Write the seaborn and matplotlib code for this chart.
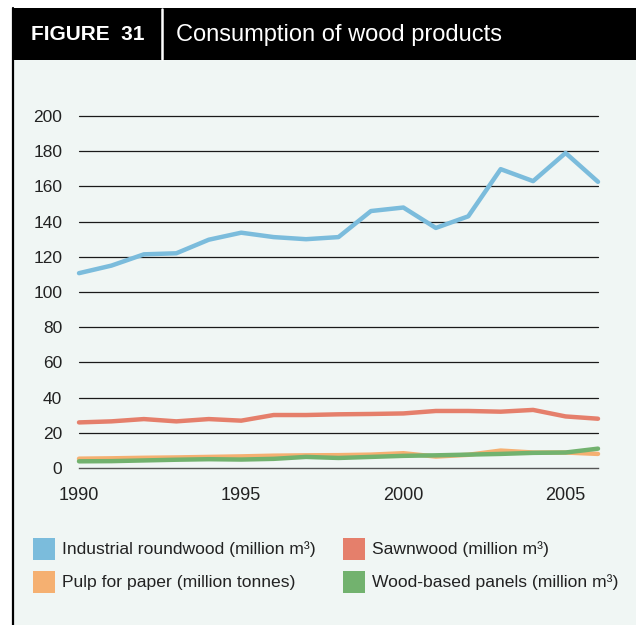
import matplotlib
matplotlib.use("Agg")
import matplotlib.pyplot as plt
from matplotlib.patches import Rectangle
from matplotlib.lines import Line2D
import seaborn as sns
import pandas as pd

years = list(range(1990, 2007))
roundwood = [110.7, 115, 121.4, 122, 129.7, 133.7, 131.2, 130, 131.2, 146, 148, 136.4, 143, 169.8, 163, 179, 162.6]
sawnwood = [25.9, 26.5, 27.8, 26.5, 27.8, 26.9, 30.1, 30.1, 30.5, 30.7, 31, 32.4, 32.4, 32, 33, 29.3, 28]
pulp = [5.3, 5.5, 5.8, 6.0, 6.3, 6.6, 7.0, 7.2, 7.3, 7.6, 8.4, 6.5, 7.5, 9.9, 8.8, 8.8, 8.0]
panels = [3.8, 3.9, 4.3, 4.7, 5.0, 4.8, 5.2, 6.3, 5.7, 6.3, 6.9, 7.2, 7.6, 8.0, 8.6, 8.8, 11.0]

series_names = ["Industrial roundwood (million m³)", "Sawnwood (million m³)",
                "Pulp for paper (million tonnes)", "Wood-based panels (million m³)"]
colors = ["#7BBCDC", "#E57F6B", "#F5B071", "#72B26E"]
yticks = [0, 20, 40, 60, 80, 100, 120, 140, 160, 180, 200]
xticks = [1990, 1995, 2000, 2005]

df = pd.concat([
    pd.DataFrame({"year": years, "value": vals, "series": name})
    for name, vals in zip(series_names, [roundwood, sawnwood, pulp, panels])
])

sns.set_style("white")
plt.rcParams["font.family"] = ["Liberation Sans", "DejaVu Sans"]

W, H = 636, 625
fig = plt.figure(figsize=(W / 100, H / 100), dpi=100)
fig.patch.set_facecolor("white")

bg = "#F0F6F4"
# panel background
fig.patches.append(Rectangle((13 / W, 0), 1 - 13 / W, 1 - 58 / H, transform=fig.transFigure,
                             facecolor=bg, edgecolor="none", zorder=-2))
# left border
fig.add_artist(Line2D([12.5 / W, 12.5 / W], [0, 1 - 8 / H], transform=fig.transFigure,
                      color="black", lw=1.6, zorder=1))
# header band
fig.patches.append(Rectangle((12 / W, 1 - 60 / H), 1 - 12 / W, 52 / H, transform=fig.transFigure,
                             facecolor="black", edgecolor="none", zorder=1))
fig.add_artist(Line2D([162 / W, 162 / W], [1 - 59 / H, 1 - 9 / H], transform=fig.transFigure,
                      color="white", lw=1.8, zorder=2))
fig.text(31 / W, 1 - 35 / H, "FIGURE  31", color="white", fontsize=15, fontweight="bold",
         va="center", ha="left", zorder=3)
fig.text(176 / W, 1 - 35 / H, "Consumption of wood products", color="white", fontsize=17,
         va="center", ha="left", zorder=3)

ax = fig.add_axes([79 / W, 1 - 468 / H, (598 - 79) / W, (468 - 116) / H])
ax.set_zorder(5)
ax.set_facecolor("none")
for y in yticks[1:]:
    ax.axhline(y, color="#1a1a1a", lw=0.9, zorder=1, clip_on=False)

sns.lineplot(data=df, x="year", y="value", hue="series", hue_order=series_names,
             palette=colors, linewidth=3.2, ax=ax, legend=False, zorder=3)
for ln in ax.lines:
    ln.set_clip_on(False)

ax.set_xlim(1990, 2006)
ax.set_ylim(0, 200)
ax.set_xticks(xticks)
ax.set_xticklabels([str(x) for x in xticks])
ax.set_yticks(yticks)
ax.set_yticklabels([str(y) for y in yticks])
ax.set_xlabel("")
ax.set_ylabel("")
for s in ["top", "right", "left"]:
    ax.spines[s].set_visible(False)
ax.spines["bottom"].set_color("#555555")
ax.spines["bottom"].set_linewidth(1.0)
ax.tick_params(axis="y", length=0, pad=12, labelsize=12.5, labelcolor="#222222")
ax.tick_params(axis="x", length=9, width=1.0, color="#444444", direction="inout", pad=9,
               labelsize=13, labelcolor="#222222")

# legend
legend_pos = [(33, 538), (343, 538), (33, 571), (343, 571)]
for (lx, ly), name, c in zip(legend_pos, series_names, colors):
    fig.patches.append(Rectangle((lx / W, 1 - (ly + 22) / H), 22 / W, 22 / H,
                                 transform=fig.transFigure, facecolor=c, edgecolor="none", zorder=2))
    fig.text((lx + 29) / W, 1 - (ly + 11) / H, name, fontsize=12.6, color="#222222",
             va="center", ha="left")

fig.savefig("out.png", dpi=100)
